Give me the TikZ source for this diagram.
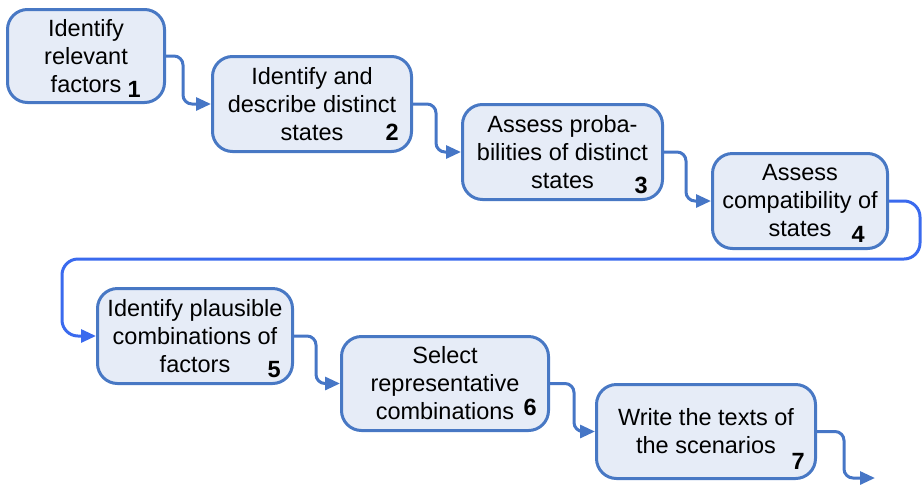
\documentclass[tikz,border=0pt]{standalone}
\usepackage{fontspec}
\setmainfont{Liberation Sans}
\usetikzlibrary{arrows.meta,calc}
\definecolor{boxborder}{RGB}{72,120,196}
\definecolor{boxfill}{RGB}{230,236,247}
\definecolor{connblue}{RGB}{70,118,198}
\definecolor{connbright}{RGB}{58,106,238}
\tikzset{
  stepbox/.style={draw=boxborder, fill=boxfill, line width=3pt, rounded corners=20pt,
    align=center, inner sep=0pt, font=\fontsize{23.5}{28}\selectfont},
  numlabel/.style={anchor=base east, inner sep=0pt, font=\fontsize{23.5}{28}\selectfont\bfseries},
  conn/.style={draw=connblue, line width=3pt, rounded corners=9pt,
    -{Triangle[length=15pt,width=13pt]}},
  connwrap/.style={draw=connbright, line width=3pt, rounded corners=16pt,
    -{Triangle[length=15pt,width=13pt]}}
}
\begin{document}
\begin{tikzpicture}[x=1pt,y=-1pt]
\useasboundingbox (0,0) rectangle (923,488);

\node[stepbox, minimum width=157pt, minimum height=93pt] (b1) at (86,56) {Identify\\relevant\\factors};
\node[stepbox, minimum width=199pt, minimum height=95pt] (b2) at (312,104) {Identify and\\describe distinct\\states};
\node[stepbox, minimum width=200pt, minimum height=95pt] (b3) at (562.5,152) {Assess proba-\\bilities of distinct\\states};
\node[stepbox, minimum width=175pt, minimum height=95pt] (b4) at (800,201) {Assess\\compatibility of\\states};
\node[stepbox, minimum width=195pt, minimum height=95pt] (b5) at (195,336) {Identify plausible\\combinations of\\factors};
\node[stepbox, minimum width=207pt, minimum height=94pt] (b6) at (445,383.5) {Select\\representative\\combinations};
\node[stepbox, minimum width=219pt, minimum height=94pt] (b7) at (706,431.5) {Write the texts of\\the scenarios};

\node[numlabel] (n1) at (141,97) {1};
\node[numlabel] (n2) at (399,140) {2};
\node[numlabel] (n3) at (648,193) {3};
\node[numlabel] (n4) at (865,242) {4};
\node[numlabel] (n5) at (281,377) {5};
\node[numlabel] (n6) at (537,415) {6};
\node[numlabel] (n7) at (805,469) {7};

\coordinate (wr1) at (920,201);
\coordinate (wr2) at (920,259);
\coordinate (wl1) at (62,259);
\coordinate (wl2) at (62,336);
\coordinate (endpt) at (875,478);

\draw[conn] (b1.east) -- (183,56) |- (b2.west);
\draw[conn] (b2.east) -- (436,104) |- (b3.west);
\draw[conn] (b3.east) -- (686,152) |- (b4.west);
\draw[connwrap] (b4.east) -- (wr1) -- (wr2) -- (wl1) -- (wl2) -- (b5.west);
\draw[conn] (b5.east) -- (316,336) |- (b6.west);
\draw[conn] (b6.east) -- (574,383.5) |- (b7.west);
\draw[conn] (b7.east) -- (844,431.5) |- (endpt);
\end{tikzpicture}
\end{document}
